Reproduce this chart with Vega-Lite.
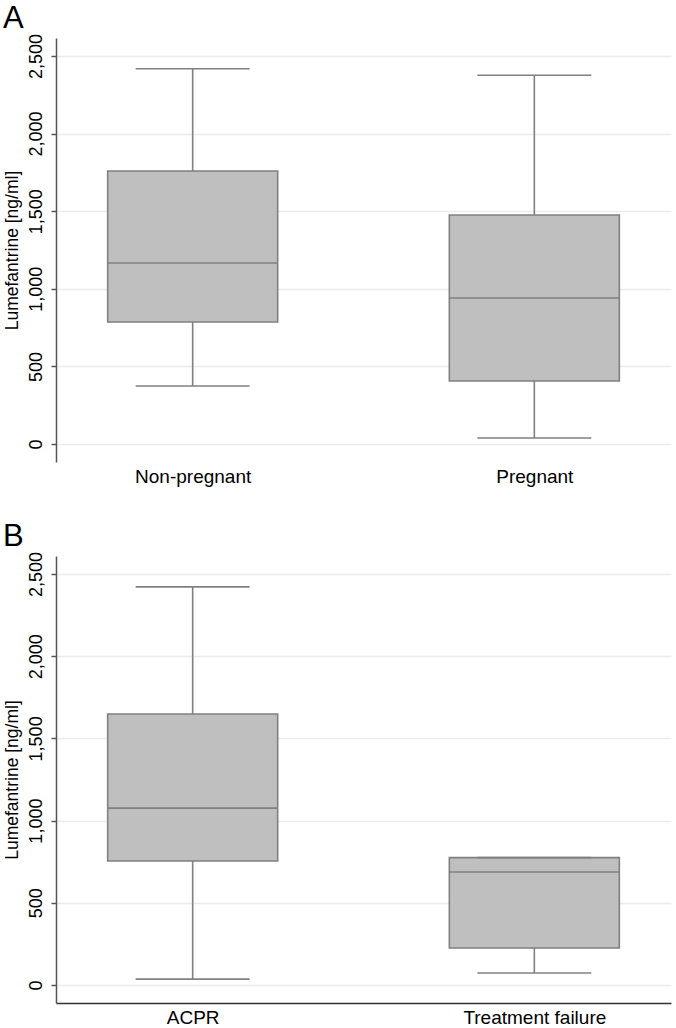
{
  "$schema": "https://vega.github.io/schema/vega-lite/v6.json",
  "background": "white",
  "padding": {"left": 2, "top": 3, "right": 4, "bottom": 0},
  "spacing": 35,
  "config": {
    "view": {"stroke": null},
    "font": "Liberation Sans",
    "axis": {"labelFont": "Liberation Sans", "titleFont": "Liberation Sans", "labelColor": "#000000", "titleColor": "#000000", "titleFontWeight": "normal"},
    "title": {"font": "Liberation Sans", "fontWeight": "normal", "fontSize": 31, "anchor": "start", "frame": "bounds", "color": "#000000"}
  },
  "vconcat": [
    {
      "title": {"text": "A", "offset": -2},
      "width": 615,
      "height": 424,
      "data": {"values": [
        {"group": "Non-pregnant", "lower": 374, "q1": 786, "median": 1166, "q3": 1759, "upper": 2418},
        {"group": "Pregnant", "lower": 39, "q1": 406, "median": 941, "q3": 1476, "upper": 2376}
      ]},
      "encoding": {
        "x": {"field": "group", "type": "nominal", "sort": null, "scale": {"type": "point", "padding": 0.4},
          "axis": {"title": null, "labelAngle": 0, "labelFontSize": 19, "labelPadding": 5, "domain": false, "ticks": false, "grid": false}}
      },
      "layer": [
        {"mark": {"type": "rule", "color": "#808080", "strokeWidth": 1.6},
         "encoding": {
           "y": {"field": "lower", "type": "quantitative", "scale": {"domain": [-116, 2616], "nice": false, "zero": false},
             "axis": {"title": "Lumefantrine [ng/ml]", "titleFontSize": 17.5, "titlePadding": 6, "values": [0, 500, 1000, 1500, 2000, 2500], "format": ",.0f", "labelAngle": 270, "labelFontSize": 18, "labelPadding": 6, "tickSize": 5, "tickColor": "#555555", "domainColor": "#555555", "domainWidth": 1.5, "tickWidth": 1.5, "gridColor": "#ebebeb", "gridWidth": 1.5}},
           "y2": {"field": "upper"}
         }},
        {"mark": {"type": "bar", "size": 170, "fill": "#bfbfbf", "stroke": "#808080", "strokeWidth": 1.6},
         "encoding": {"y": {"field": "q1", "type": "quantitative"}, "y2": {"field": "q3"}}},
        {"mark": {"type": "tick", "size": 170, "thickness": 1.6, "color": "#808080", "opacity": 1},
         "encoding": {"y": {"field": "median", "type": "quantitative"}}},
        {"mark": {"type": "tick", "size": 114, "thickness": 1.6, "color": "#808080", "opacity": 1},
         "encoding": {"y": {"field": "lower", "type": "quantitative"}}},
        {"mark": {"type": "tick", "size": 114, "thickness": 1.6, "color": "#808080", "opacity": 1},
         "encoding": {"y": {"field": "upper", "type": "quantitative"}}}
      ]
    },
    {
      "title": {"text": "B", "offset": -2},
      "width": 615,
      "height": 447,
      "data": {"values": [
        {"group": "ACPR", "lower": 36, "q1": 754, "median": 1076, "q3": 1648, "upper": 2421},
        {"group": "Treatment failure", "lower": 73, "q1": 225, "median": 688, "q3": 775, "upper": 775}
      ]},
      "encoding": {
        "x": {"field": "group", "type": "nominal", "sort": null, "scale": {"type": "point", "padding": 0.4},
          "axis": {"title": null, "labelAngle": 0, "labelFontSize": 19, "labelPadding": 5, "domain": true, "domainColor": "#333333", "domainWidth": 1.5, "ticks": false, "grid": false}}
      },
      "layer": [
        {"mark": {"type": "rule", "color": "#808080", "strokeWidth": 1.6},
         "encoding": {
           "y": {"field": "lower", "type": "quantitative", "scale": {"domain": [-109, 2609], "nice": false, "zero": false},
             "axis": {"title": "Lumefantrine [ng/ml]", "titleFontSize": 17.5, "titlePadding": 6, "values": [0, 500, 1000, 1500, 2000, 2500], "format": ",.0f", "labelAngle": 270, "labelFontSize": 18, "labelPadding": 6, "tickSize": 5, "tickColor": "#555555", "domainColor": "#555555", "domainWidth": 1.5, "tickWidth": 1.5, "gridColor": "#ebebeb", "gridWidth": 1.5}},
           "y2": {"field": "upper"}
         }},
        {"mark": {"type": "bar", "size": 170, "fill": "#bfbfbf", "stroke": "#808080", "strokeWidth": 1.6},
         "encoding": {"y": {"field": "q1", "type": "quantitative"}, "y2": {"field": "q3"}}},
        {"mark": {"type": "tick", "size": 170, "thickness": 1.6, "color": "#808080", "opacity": 1},
         "encoding": {"y": {"field": "median", "type": "quantitative"}}},
        {"mark": {"type": "tick", "size": 114, "thickness": 1.6, "color": "#808080", "opacity": 1},
         "encoding": {"y": {"field": "lower", "type": "quantitative"}}},
        {"mark": {"type": "tick", "size": 114, "thickness": 1.6, "color": "#808080", "opacity": 1},
         "encoding": {"y": {"field": "upper", "type": "quantitative"}}}
      ]
    }
  ]
}
